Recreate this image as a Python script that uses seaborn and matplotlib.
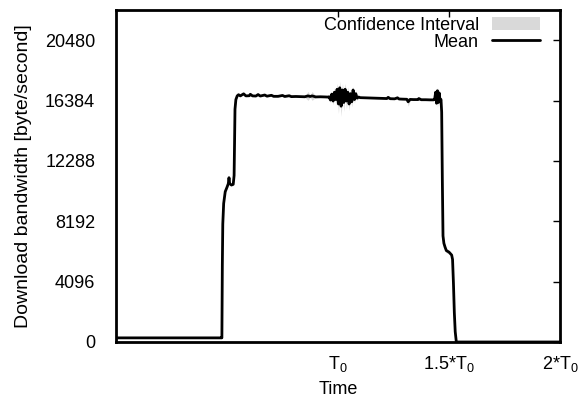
import numpy as np
import pandas as pd
import matplotlib
matplotlib.use("Agg")
import matplotlib.pyplot as plt
import seaborn as sns
from matplotlib.lines import Line2D
from matplotlib.patches import Patch

# time in units of T0, mean download bandwidth (byte/s), CI half width (byte/s)
time_t0 = [
    0.000, 0.470, 0.477,
    # ramp up
    0.479, 0.481, 0.485, 0.492, 0.500, 0.506, 0.509, 0.512, 0.520, 0.528, 0.532, 0.534, 0.536, 0.540, 0.546, 0.552,
    # plateau
    0.560, 0.575, 0.585, 0.600, 0.605, 0.615, 0.630, 0.640, 0.650, 0.670, 0.680, 0.700, 0.710, 0.730,
    0.750, 0.760, 0.780, 0.790, 0.810, 0.830, 0.850, 0.865, 0.875, 0.883, 0.900, 0.920, 0.940, 0.955,
    # noisy part around T0
    0.960, 0.966, 0.972, 0.978, 0.984, 0.990, 0.996, 1.002, 1.008, 1.014, 1.020, 1.026,
    1.032, 1.038, 1.044, 1.050, 1.056, 1.062, 1.068, 1.074, 1.080, 1.086, 1.093, 1.100,
    # plateau
    1.120, 1.140, 1.160, 1.180, 1.200, 1.220, 1.226, 1.235, 1.255, 1.268, 1.275,
    1.290, 1.310, 1.316, 1.325, 1.340, 1.360, 1.364, 1.375, 1.395, 1.415, 1.430,
    # before drop
    1.435, 1.440, 1.444, 1.448, 1.452, 1.456, 1.460, 1.464,
    # drop
    1.467, 1.470, 1.473, 1.477, 1.482, 1.488, 1.494, 1.500, 1.506, 1.512, 1.516, 1.520, 1.524, 1.528, 1.533, 2.000,
]
mean_bw = [
    280, 280, 280,
    5200, 8000, 9400, 10200, 10500, 10750, 11150, 10750, 10650, 10700, 11300, 13500, 15800, 16450, 16700, 16780,
    16700, 16840, 16700, 16710, 16810, 16700, 16690, 16790, 16690, 16760, 16680, 16740, 16670, 16670,
    16730, 16660, 16710, 16650, 16660, 16650, 16640, 16700, 16660, 16700, 16630, 16640, 16630, 16620,
    16640, 16420, 16820, 16350, 16950, 16450, 17150, 16150, 17250, 16000, 17100, 16250,
    17150, 16350, 16950, 16150, 16850, 16300, 17100, 16450, 16850, 16550, 16620, 16580,
    16570, 16560, 16550, 16540, 16530, 16520, 16600, 16510, 16500, 16570, 16490,
    16480, 16470, 16300, 16460, 16450, 16450, 16520, 16440, 16440, 16430, 16430,
    16450, 16950, 16200, 17050, 16250, 16900, 16350, 16450,
    15600, 11000, 7200, 6700, 6450, 6200, 6150, 6100, 6000, 5900, 5600, 4000, 2000, 700, 0, 0,
]
ci_half = [
    20, 20, 20,
    100, 150, 120, 80, 60, 60, 80, 60, 50, 50, 80, 120, 120, 80, 60, 50,
    40, 60, 40, 40, 60, 40, 40, 60, 40, 50, 40, 50, 40, 40,
    50, 40, 50, 40, 40, 40, 40, 300, 60, 300, 40, 60, 40, 40,
    60, 200, 200, 250, 300, 350, 400, 650, 450, 700, 450, 600,
    400, 550, 350, 450, 300, 350, 250, 250, 200, 150, 80, 50,
    40, 40, 40, 40, 40, 50, 120, 40, 40, 100, 40,
    40, 50, 300, 50, 40, 40, 100, 40, 40, 40, 40,
    80, 250, 300, 250, 300, 250, 150, 100,
    150, 200, 150, 80, 60, 150, 150, 100, 60, 60, 100, 100, 80, 40, 0, 0,
]

ytick_vals = [0, 4096, 8192, 12288, 16384, 20480]
xtick_vals = [1.0, 1.5, 2.0]
xtick_labels = ["T$_0$", "1.5*T$_0$", "2*T$_0$"]

df = pd.DataFrame({"t": time_t0, "mean": mean_bw, "ci": ci_half})

sns.set_theme(style="white")
plt.rcParams["font.family"] = ["Liberation Sans", "DejaVu Sans"]
plt.rcParams["mathtext.default"] = "regular"
plt.rcParams["text.color"] = "black"
plt.rcParams["axes.labelcolor"] = "black"

fig = plt.figure(figsize=(5.79, 4.01), dpi=100)
ax = fig.add_axes([116 / 579, 59 / 401, 444 / 579, 332 / 401])

ax.fill_between(df["t"], df["mean"] - df["ci"], df["mean"] + df["ci"],
                color="#d9d9d9", lw=0)
sns.lineplot(data=df, x="t", y="mean", ax=ax, color="black", lw=2.0,
             estimator=None, sort=False)

ax.set_xlim(0, 2)
ax.set_ylim(0, 22528)
ax.set_yticks(ytick_vals)
ax.set_xticks(xtick_vals, xtick_labels)
ax.tick_params(direction="in", top=True, right=True, length=5, width=1,
               colors="black", labelsize=13)
ax.tick_params(axis="y", pad=15)
ax.tick_params(axis="x", pad=9)
for lab in ax.get_yticklabels():
    lab.set_family(["Liberation Sans Narrow", "Liberation Sans"])
for s in ax.spines.values():
    s.set_color("black")
    s.set_linewidth(2)

ax.set_xlabel("Time", fontsize=13, labelpad=5)
ax.set_ylabel("Download bandwidth [byte/second]", fontsize=14, labelpad=9)

handles = [Patch(facecolor="#d9d9d9", edgecolor="none"),
           Line2D([], [], color="black", lw=2.0)]
ax.legend(handles, ["Confidence Interval", "Mean"], loc="upper right",
          bbox_to_anchor=(0.968, 0.995), borderaxespad=0, frameon=False,
          markerfirst=False, fontsize=13, handlelength=2.7,
          handletextpad=0.7, labelspacing=-0.03, borderpad=0.3)

fig.savefig("out.png", dpi=100)
